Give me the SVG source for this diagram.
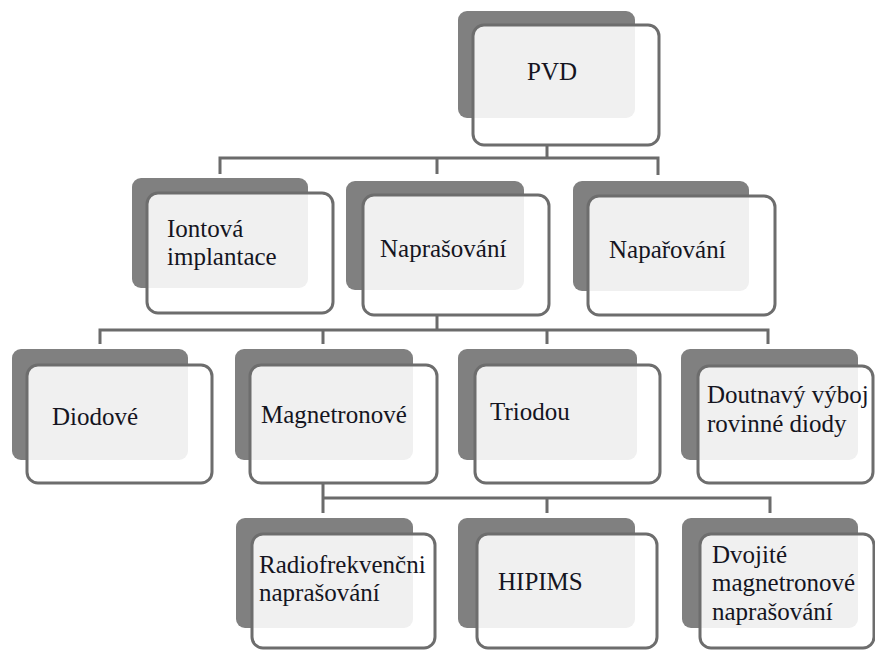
<svg xmlns="http://www.w3.org/2000/svg" width="875" height="650" viewBox="0 0 875 650">
<style>
.sh{fill:#808080}
.fr{fill:#ffffff;fill-opacity:0.88;stroke:#6d6d6d;stroke-width:3}
text{font-family:'Liberation Serif','Times New Roman',serif;font-size:25px;fill:#15151f}
.c{fill:none;stroke:#6b6b6b;stroke-width:3}
</style>
<rect width="875" height="650" fill="#ffffff"/>
<g id="connectors">
<path class="c" d="M547,145 V158"/>
<path class="c" d="M220,174 V158 H658 V175 M437,158 V174"/>
<path class="c" d="M437,315 V330"/>
<path class="c" d="M100,344 V330 H768 V344 M323,330 V344 M547,330 V344"/>
<path class="c" d="M323,483 V513 M323,498 H770 V513 M547,498 V513"/>
</g>
<g id="pvd">
<rect class="sh" x="458" y="11" width="177" height="107" rx="9"/>
<rect class="fr" x="473" y="25" width="186" height="120" rx="11"/>
<text x="552" y="80" text-anchor="middle">PVD</text>
</g>
<g id="iontova">
<rect class="sh" x="132" y="178" width="176" height="110" rx="9"/>
<rect class="fr" x="147" y="193" width="186" height="120" rx="11"/>
<text x="167" y="237">Iontová</text>
<text x="167" y="265">implantace</text>
</g>
<g id="naprasovani">
<rect class="sh" x="346" y="181" width="178" height="109" rx="9"/>
<rect class="fr" x="363" y="195" width="186" height="120" rx="11"/>
<text x="380" y="257">Naprašování</text>
</g>
<g id="naparovani">
<rect class="sh" x="573" y="181" width="176" height="110" rx="9"/>
<rect class="fr" x="588" y="196" width="187" height="119" rx="11"/>
<text x="609" y="258">Napařování</text>
</g>
<g id="diodove">
<rect class="sh" x="12" y="349" width="176" height="111" rx="9"/>
<rect class="fr" x="27" y="365" width="185" height="118" rx="11"/>
<text x="52" y="425">Diodové</text>
</g>
<g id="magnetronove">
<rect class="sh" x="235" y="349" width="178" height="111" rx="9"/>
<rect class="fr" x="250" y="365" width="187" height="118" rx="11"/>
<text x="261" y="423">Magnetronové</text>
</g>
<g id="triodou">
<rect class="sh" x="458" y="349" width="179" height="111" rx="9"/>
<rect class="fr" x="475" y="365" width="185" height="118" rx="11"/>
<text x="490" y="420">Triodou</text>
</g>
<g id="doutnavy">
<rect class="sh" x="681" y="349" width="177" height="111" rx="9"/>
<rect class="fr" x="698" y="366" width="175" height="117" rx="11"/>
<text x="707" y="403">Doutnavý výboj</text>
<text x="707" y="432">rovinné diody</text>
</g>
<g id="radiofrekvencni">
<rect class="sh" x="236" y="518" width="177" height="110" rx="9"/>
<rect class="fr" x="252" y="534" width="183" height="114" rx="11"/>
<text x="259" y="573">Radiofrekvenčni</text>
<text x="259" y="601">naprašování</text>
</g>
<g id="hipims">
<rect class="sh" x="458" y="518" width="177" height="110" rx="9"/>
<rect class="fr" x="477" y="534" width="180" height="114" rx="11"/>
<text x="498" y="590">HIPIMS</text>
</g>
<g id="dvojite">
<rect class="sh" x="682" y="518" width="176" height="110" rx="9"/>
<rect class="fr" x="700" y="534" width="174" height="114" rx="11"/>
<text x="712" y="563">Dvojité</text>
<text x="712" y="591">magnetronové</text>
<text x="712" y="620">naprašování</text>
</g>
</svg>
